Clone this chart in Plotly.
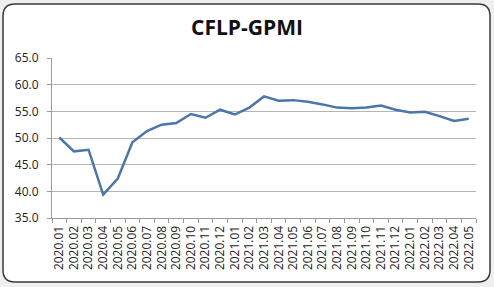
import plotly.graph_objects as go

months = ["2020.01","2020.02","2020.03","2020.04","2020.05","2020.06","2020.07","2020.08","2020.09","2020.10","2020.11","2020.12",
          "2021.01","2021.02","2021.03","2021.04","2021.05","2021.06","2021.07","2021.08","2021.09","2021.10","2021.11","2021.12",
          "2022.01","2022.02","2022.03","2022.04","2022.05"]
gpmi = [50.1, 47.5, 47.8, 39.4, 42.4, 49.2, 51.3, 52.5, 52.8, 54.5, 53.8, 55.3,
        54.4, 55.7, 57.8, 57.0, 57.1, 56.8, 56.3, 55.7, 55.6, 55.7, 56.1, 55.3,
        54.8, 54.9, 54.1, 53.2, 53.6]
y_ticks = [35, 40, 45, 50, 55, 60, 65]

W, H = 494, 287
L, R, T, B = 52, 18, 58, 69
pw, ph = W - L - R, H - T - B

def px(x):
    return (x - L) / pw

def py(y):
    return (H - B - y) / ph

fig = go.Figure()
fig.add_trace(go.Scatter(x=months, y=gpmi, mode="lines",
                         line=dict(color="#4a76ab", width=2.5), hoverinfo="x+y"))

# rounded frame
x0, x1, y0, y1 = 3, 490, 4, 282
r = 12
path = (f"M {px(x0+r)},{py(y0)} L {px(x1-r)},{py(y0)} Q {px(x1)},{py(y0)} {px(x1)},{py(y0+r)} "
        f"L {px(x1)},{py(y1-r)} Q {px(x1)},{py(y1)} {px(x1-r)},{py(y1)} "
        f"L {px(x0+r)},{py(y1)} Q {px(x0)},{py(y1)} {px(x0)},{py(y1-r)} "
        f"L {px(x0)},{py(y0+r)} Q {px(x0)},{py(y0)} {px(x0+r)},{py(y0)} Z")
fig.add_shape(type="path", path=path, xref="paper", yref="paper",
              line=dict(color="#3a3a3a", width=1.5), fillcolor="white", layer="below")

fig.update_layout(
    width=W, height=H,
    margin=dict(l=L, r=R, t=T, b=B),
    paper_bgcolor="#efefef",
    plot_bgcolor="rgba(0,0,0,0)",
    showlegend=False,
    font=dict(family="Open Sans, Noto Sans, sans-serif", color="#222", size=12),
    title=dict(text="<b>CFLP-GPMI</b>", x=0.5, xanchor="center", y=1 - 28 / H, yanchor="middle",
               font=dict(size=21, color="#111", family="Open Sans, sans-serif")),
)
fig.update_xaxes(type="category", range=[-0.5, len(months) - 0.5], tickangle=-90,
                 showgrid=False, showline=True, linecolor="#9a9a9a", linewidth=1,
                 ticks="outside", tickson="boundaries", ticklen=4, tickcolor="#9a9a9a",
                 ticklabelstandoff=2,
                 tickfont=dict(size=12, color="#222"))
fig.update_yaxes(range=[35, 65], tickvals=y_ticks, tickformat=".1f",
                 showgrid=True, gridcolor="#b5b5b5", gridwidth=1,
                 showline=True, linecolor="#9a9a9a", linewidth=1,
                 ticks="outside", ticklen=4, tickcolor="#9a9a9a", zeroline=False,
                 ticklabelstandoff=6,
                 tickfont=dict(size=12, color="#222"))

fig.write_html("out.html")
